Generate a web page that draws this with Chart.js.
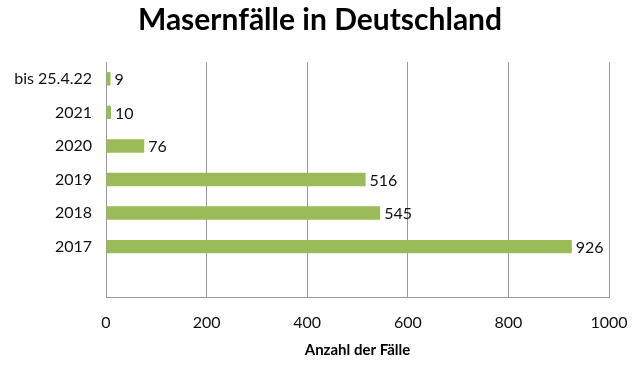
<!DOCTYPE html>
<html>
<head>
  <meta charset="utf-8" />
  <title>Masernfälle in Deutschland</title>
  <style>
    body { margin: 0; background: #fff; }
    #wrap { width: 640px; height: 370px; }
  </style>
</head>
<body>
  <div id="wrap"><canvas id="chart"></canvas></div>

  <script src="https://cdn.jsdelivr.net/npm/chart.js"></script>
  <script>
    // data (top to bottom, last slot is empty in the original)
    const categories = ['bis 25.4.22', '2021', '2020', '2019', '2018', '2017', ''];
    const cases = [9, 10, 76, 516, 545, 926, null];
    const xTicks = [0, 200, 400, 600, 800, 1000];

    const FONT = 'Lato, "Liberation Sans", sans-serif';

    // value labels right of each bar
    const barLabels = {
      id: 'barLabels',
      afterDatasetsDraw(chart) {
        const ctx = chart.ctx;
        const meta = chart.getDatasetMeta(0);
        ctx.save();
        ctx.font = '16px ' + FONT;
        ctx.fillStyle = '#111';
        ctx.textBaseline = 'middle';
        meta.data.forEach((bar, i) => {
          if (cases[i] == null) return;
          ctx.fillText(String(cases[i]), bar.x + 4, bar.y + 1);
        });
        ctx.restore();
      }
    };

    // title centred on the whole canvas
    const pageTitle = {
      id: 'pageTitle',
      afterDraw(chart) {
        const ctx = chart.ctx;
        ctx.save();
        ctx.font = 'bold 30px ' + FONT;
        ctx.fillStyle = '#000';
        ctx.textAlign = 'center';
        ctx.textBaseline = 'middle';
        ctx.fillText('Masernfälle in Deutschland', chart.width / 2, 20);
        ctx.restore();
      }
    };

    new Chart(document.getElementById('chart'), {
      type: 'bar',
      data: {
        labels: categories,
        datasets: [{
          data: cases,
          backgroundColor: '#9bbb59',
          barPercentage: 0.4,
          categoryPercentage: 1.0
        }]
      },
      plugins: [barLabels, pageTitle],
      options: {
        indexAxis: 'y',
        responsive: true,
        maintainAspectRatio: false,
        animation: false,
        layout: { padding: { left: 0, right: 31, top: 62, bottom: 0 } },
        plugins: {
          legend: { display: false },
          tooltip: { enabled: false },
          title: { display: false }
        },
        scales: {
          x: {
            min: 0,
            max: 1000,
            afterBuildTicks(scale) { scale.ticks = xTicks.map(v => ({ value: v })); },
            afterFit(scale) {
              scale.height = 73;
              scale.paddingLeft = 0;
              scale.paddingRight = 0;
            },
            grid: { color: '#9a9a9a', lineWidth: 1, drawTicks: false },
            border: { display: true, color: '#9a9a9a', width: 1 },
            ticks: {
              color: '#111',
              padding: 16,
              font: { family: FONT, size: 16 },
              callback: v => String(v)
            },
            title: {
              display: true,
              text: 'Anzahl der Fälle',
              color: '#000',
              font: { family: FONT, size: 15, weight: 'bold' },
              padding: { top: 6, bottom: 11 }
            }
          },
          y: {
            afterFit(scale) { scale.width = 106; },
            grid: { display: false },
            border: { display: true, color: '#9a9a9a', width: 1 },
            ticks: { color: '#111', padding: 6, font: { family: FONT, size: 16 } }
          }
        }
      }
    });
  </script>
</body>
</html>
